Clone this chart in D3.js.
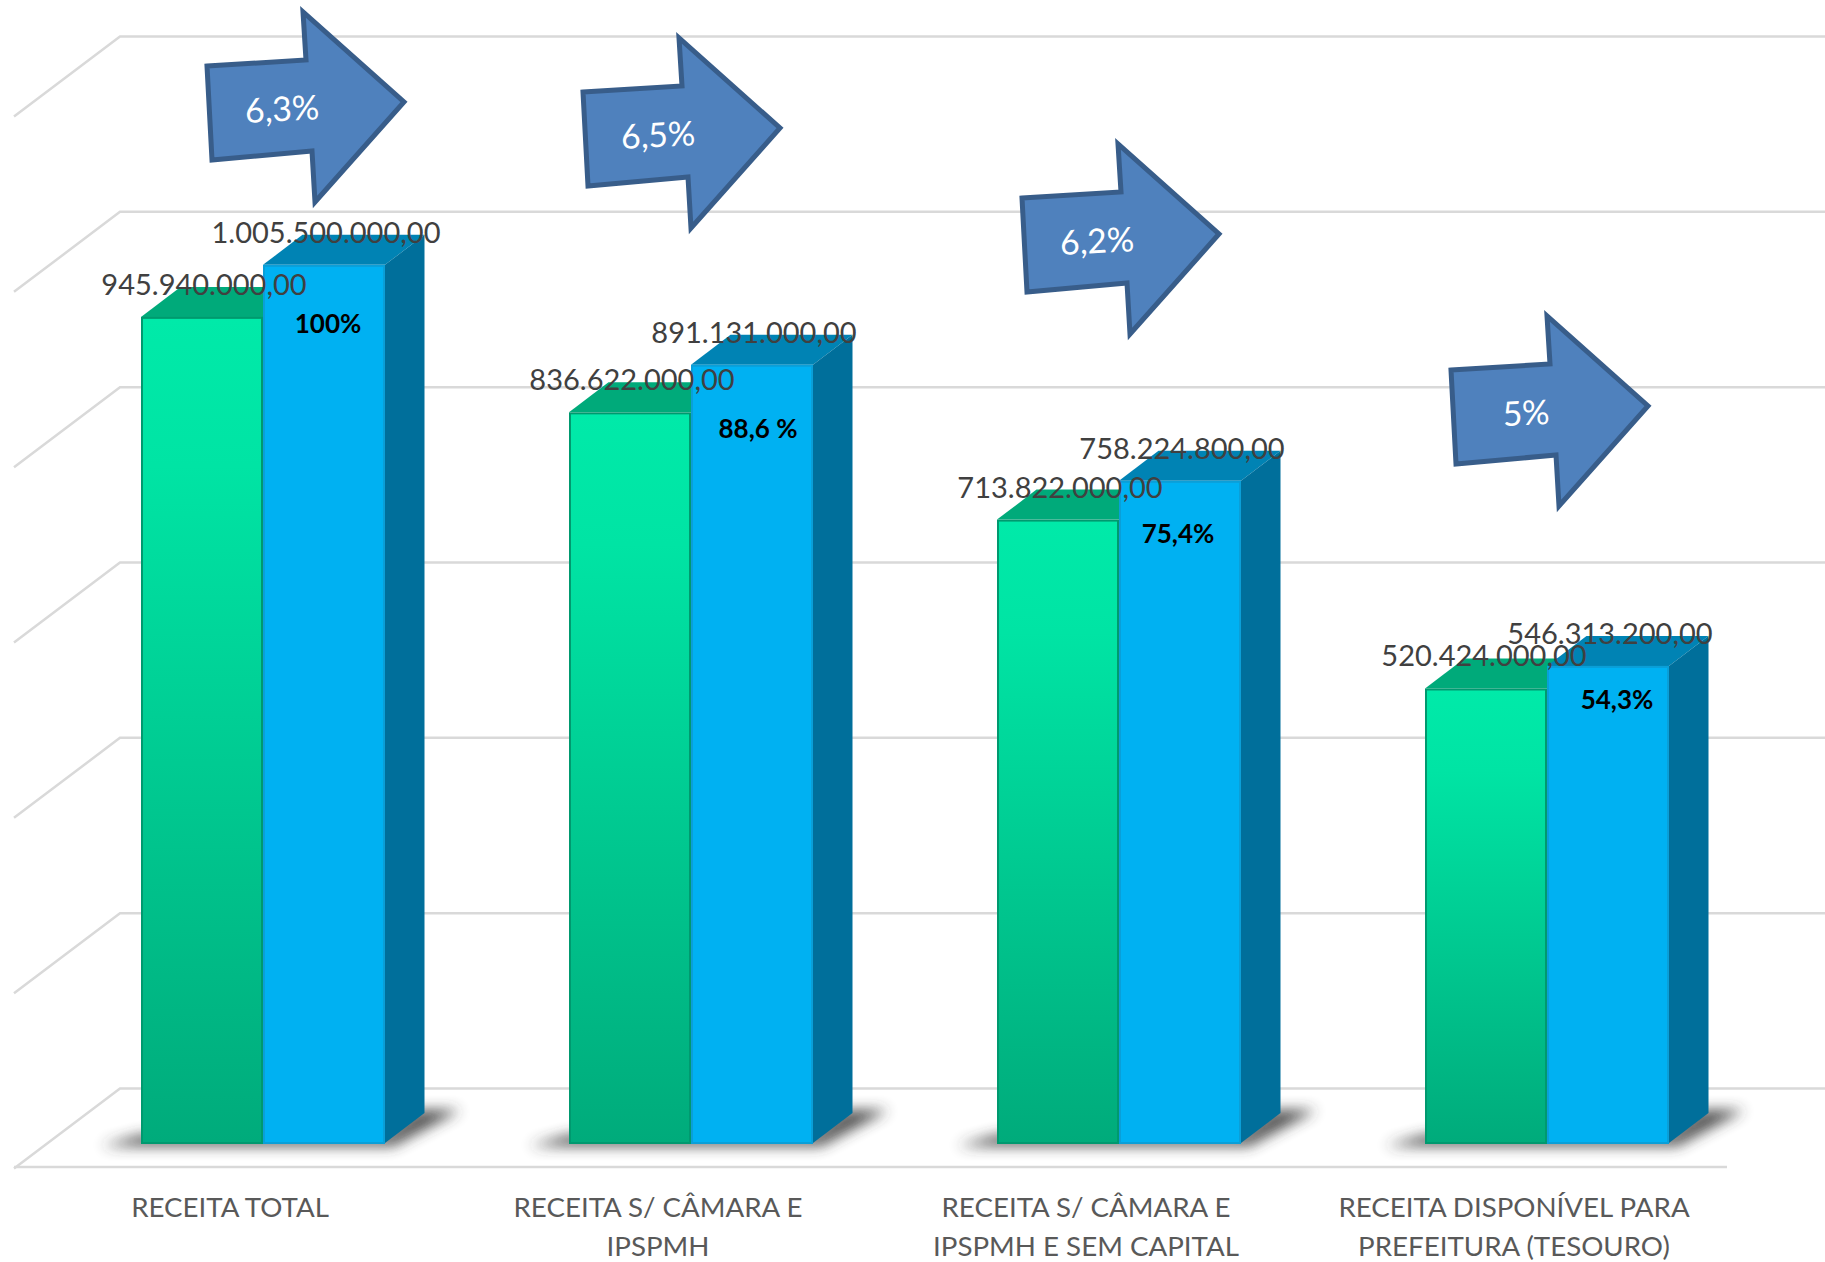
<!DOCTYPE html>
<html><head><meta charset="utf-8">
<script src="https://cdn.jsdelivr.net/npm/d3@7/dist/d3.min.js"></script>
<style>html,body{margin:0;padding:0;background:#fff}svg{display:block}text{font-family:Lato,"Open Sans",sans-serif}</style>
</head><body><svg id="c" width="1825" height="1262"></svg>
<script>
const categories = ["RECEITA TOTAL","RECEITA S/ CÂMARA E|IPSPMH","RECEITA S/ CÂMARA E|IPSPMH E SEM CAPITAL","RECEITA DISPONÍVEL PARA|PREFEITURA (TESOURO)"];
const greenValues = [945940000,836622000,713822000,520424000];
const blueValues = [1005500000,891131000,758224800,546313200];
const greenLabels = ["945.940.000,00","836.622.000,00","713.822.000,00","520.424.000,00"];
const blueLabels = ["1.005.500.000,00","891.131.000,00","758.224.800,00","546.313.200,00"];
const shareLabels = ["100%","88,6 %","75,4%","54,3%"];
const growthLabels = ["6,3%","6,5%","6,2%","5%"];
const axisTicks = [0,200000000,400000000,600000000,800000000,1000000000,1200000000];

const svg = d3.select("#c");
const defs = svg.append("defs");
const g = defs.append("linearGradient").attr("id","gf").attr("x1",0).attr("y1",0).attr("x2",0).attr("y2",1);
g.append("stop").attr("offset","0").attr("stop-color","#00eaa9");
g.append("stop").attr("offset","0.18").attr("stop-color","#00e4a4");
g.append("stop").attr("offset","1").attr("stop-color","#00ab7b");
defs.append("filter").attr("id","blur").attr("x","-20%").attr("y","-80%").attr("width","140%").attr("height","260%")
  .append("feGaussianBlur").attr("stdDeviation",7);

// wall depth between front plane and back plane
const wallDX = 106, wallDY = 80;
const backLeft = 120, floorRight = 1727;
const barDX = 39.5, barDY = 30;
const baseFront = 1143;

const x = d3.scaleBand().domain(categories).range([14,1726]);
const yBack = d3.scaleLinear().domain([0,1200000000]).range([1088.5,36.5]);
const h = d3.scaleLinear().domain([0,1200000000]).range([0,1048]);
const barW = 122, barInset = 127;
const poly = pts => "M" + pts.map(p=>p.join(",")).join("L") + "Z";

// grid
const grid = svg.append("g").attr("fill","none").attr("stroke","#d9d9d9").attr("stroke-width",2.5);
axisTicks.forEach(t=>{
  const yy = yBack(t);
  grid.append("path").attr("d",`M${backLeft-wallDX},${yy+wallDY}L${backLeft},${yy}L1825,${yy}`);
});
grid.append("path").attr("d",`M${backLeft-wallDX},1167L${floorRight},1167`);

// shadows
categories.forEach(c=>{
  const l = x(c)+barInset, r = l+2*barW;
  svg.append("path").attr("filter","url(#blur)").attr("fill","#333").attr("opacity",.85)
   .attr("d",poly([[l-40,baseFront+3],[r+8,baseFront+3],[r+barDX+36,baseFront-33],[r+barDX-6,baseFront-33],[r,baseFront-8],[l,baseFront-8]]));
});

// bars
categories.forEach((c,i)=>{
  const l = x(c)+barInset, m = l+barW, r = m+barW;
  const tg = baseFront-h(greenValues[i]), tb = baseFront-h(blueValues[i]);
  svg.append("path").attr("fill","#00aa7a").attr("d",poly([[l,tg],[m,tg],[m+barDX,tg-barDY],[l+barDX,tg-barDY]]));
  svg.append("rect").attr("x",l+1).attr("y",tg+1).attr("width",barW-2).attr("height",baseFront-tg-1)
    .attr("fill","url(#gf)").attr("stroke","#00996f").attr("stroke-width",2);
  svg.append("path").attr("fill","#0083b4").attr("d",poly([[m,tb],[r,tb],[r+barDX,tb-barDY],[m+barDX,tb-barDY]]));
  svg.append("path").attr("fill","#006f9b").attr("d",poly([[r,tb],[r+barDX,tb-barDY],[r+barDX,baseFront-barDY],[r,baseFront]]));
  svg.append("rect").attr("x",m+1).attr("y",tb+1).attr("width",barW-2).attr("height",baseFront-tb-1)
    .attr("fill","#00b1f2").attr("stroke","#0a9fd8").attr("stroke-width",2);
});

// value labels
const greenShift = [0,0,0,-4];
const lab = svg.append("g").attr("text-anchor","middle").attr("font-size",29).attr("fill","#404040");
categories.forEach((c,i)=>{
  const l = x(c)+barInset;
  lab.append("text").attr("x",l+barW/2+2+greenShift[i]).attr("y",baseFront-h(greenValues[i])-22).text(greenLabels[i]);
  lab.append("text").attr("x",l+barW*1.5+2).attr("y",baseFront-h(blueValues[i])-22).text(blueLabels[i]);
});

// share labels, placed by hand in the source chart
const shareShift = [[4,59],[6,64],[-2,53],[9,34]];
categories.forEach((c,i)=>{
  const l = x(c)+barInset;
  svg.append("text").attr("text-anchor","middle").attr("font-size",26).attr("font-weight",700).attr("fill","#000")
    .attr("x",l+barW*1.5+shareShift[i][0]).attr("y",baseFront-h(blueValues[i])+shareShift[i][1]+9).text(shareLabels[i]);
});

// growth arrows
const arrowShift = [[0,0],[376,26],[815,132],[1244,304]];
const arrowShape = [[207,66],[306,60],[303,12],[404,102],[315,202],[312,151],[212,160]];
growthLabels.forEach((t,i)=>{
  const a = svg.append("g").attr("transform",`translate(${arrowShift[i][0]},${arrowShift[i][1]})`);
  a.append("path").attr("d",poly(arrowShape)).attr("fill","#4f81bd").attr("stroke","#385d8a")
    .attr("stroke-width",5).attr("stroke-linejoin","miter").attr("stroke-miterlimit",6);
  a.append("text").attr("transform","rotate(-3 282 109)").attr("x",282).attr("y",121)
    .attr("text-anchor","middle").attr("font-size",34).attr("fill","#fff").text(t);
});

// category axis
const axis = svg.append("g").attr("transform","translate(0,1217)").call(d3.axisBottom(x).tickSize(0).tickPadding(0));
axis.select(".domain").remove();
axis.selectAll("text").attr("font-family",null).attr("font-size",27.7).attr("fill","#595959").attr("dy",0)
  .attr("y",0).text(null).each(function(d){
    const t = d3.select(this);
    d.split("|").forEach((s,k)=>t.append("tspan").attr("x",2).attr("y",k*38.5).text(s));
  });
</script></body></html>
